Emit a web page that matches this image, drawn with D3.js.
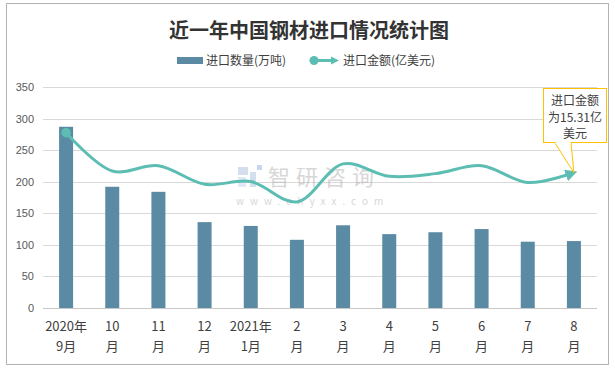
<!DOCTYPE html>
<html>
<head>
<meta charset="utf-8">
<script src="https://cdn.jsdelivr.net/npm/d3@7"></script>
<style>
  html, body { margin: 0; padding: 0; background: #fff; }
  svg { display: block; font-family: "Noto Sans CJK SC", "Noto Sans", sans-serif; }
</style>
</head>
<body>
<svg id="chart" width="615" height="369"></svg>
<script>
const categories = [["2020年","9月"],["10","月"],["11","月"],["12","月"],["2021年","1月"],["2","月"],["3","月"],["4","月"],["5","月"],["6","月"],["7","月"],["8","月"]];
const volume = [287, 192, 184, 136, 130, 108, 131, 117, 120, 125, 105, 106];   // 进口数量(万吨)
const amount = [19.83, 15.5, 16.1, 14.0, 14.3, 12.0, 16.3, 14.9, 15.2, 16.1, 14.2, 15.31]; // 进口金额(亿美元)
const yTicks = [0, 50, 100, 150, 200, 250, 300, 350];
const title = "近一年中国钢材进口情况统计图";
const legendLabels = ["进口数量(万吨)", "进口金额(亿美元)"];
const calloutLines = ["进口金额", "为15.31亿", "美元"];

const svg = d3.select("#chart");
const barColor = "#5b8ba4", lineColor = "#5cbdb3", gridColor = "#d9d9d9", textColor = "#404040";

// frame
svg.append("rect").attr("x", 6.5).attr("y", 3.5).attr("width", 602).attr("height", 361)
  .attr("fill", "#fff").attr("stroke", "#b3b3b3").attr("stroke-width", 1);

// title
svg.append("text").attr("x", 309).attr("y", 38).attr("text-anchor", "middle")
  .attr("font-size", 20).attr("font-weight", "bold").attr("fill", "#333").text(title);

const x = d3.scaleBand().domain(d3.range(categories.length)).range([43, 597]).paddingInner(0).paddingOuter(0);
const y = d3.scaleLinear().domain([0, 350]).range([308, 87]);
const y2 = d3.scaleLinear().domain([0, 25]).range([308, 87]);
const barW = 14;

// grid
svg.append("g").selectAll("line").data(yTicks).join("line")
  .attr("x1", 43).attr("x2", 597)
  .attr("y1", d => Math.round(y(d)) + 0.5).attr("y2", d => Math.round(y(d)) + 0.5)
  .attr("stroke", d => d === 0 ? "#c8c8c8" : gridColor).attr("stroke-width", 1);

// y axis labels
const yAxis = d3.axisLeft(y).tickValues(yTicks).tickSize(0).tickPadding(0);
const gy = svg.append("g").attr("transform", "translate(34,0)").call(yAxis);
gy.select(".domain").remove();
gy.selectAll("text").attr("font-size", 11).attr("fill", "#595959")
  .attr("font-family", "'Liberation Sans', 'Noto Sans', sans-serif");

// watermark
const wm = svg.append("g").attr("opacity", 0.5);
wm.append("rect").attr("x", 238).attr("y", 167).attr("width", 10).attr("height", 8).attr("fill", "#a9bfe0");
wm.append("rect").attr("x", 238).attr("y", 177).attr("width", 8).attr("height", 10).attr("fill", "#c5d4ea");
wm.append("rect").attr("x", 250).attr("y", 172).attr("width", 6).attr("height", 15).attr("fill", "#a9bfe0");
wm.append("rect").attr("x", 257).attr("y", 165).attr("width", 5).attr("height", 5).attr("fill", "#8fb0dd");
wm.append("text").attr("x", 268).attr("y", 185).attr("font-size", 22).attr("letter-spacing", 6)
  .attr("fill", "#b0b0b0").text("智研咨询");
wm.append("text").attr("x", 236).attr("y", 205).attr("font-size", 10).attr("letter-spacing", 6)
  .attr("fill", "#b0b0b0").text("www.chyxx.com");

// bars
svg.append("g").selectAll("rect").data(volume).join("rect")
  .attr("x", (d, i) => x(i) + x.bandwidth() / 2 - barW / 2)
  .attr("y", d => y(d)).attr("width", barW).attr("height", d => y(0) - y(d))
  .attr("fill", barColor);

// line
const defs = svg.append("defs");
defs.append("marker").attr("id", "arrow").attr("viewBox", "0 0 10 10").attr("refX", 7).attr("refY", 5)
  .attr("markerWidth", 4).attr("markerHeight", 4).attr("orient", "auto")
  .append("path").attr("d", "M0,0 L10,5 L0,10 z").attr("fill", lineColor);
defs.append("marker").attr("id", "dot").attr("viewBox", "0 0 10 10").attr("refX", 5).attr("refY", 5)
  .attr("markerWidth", 3.2).attr("markerHeight", 3.2)
  .append("circle").attr("cx", 5).attr("cy", 5).attr("r", 5).attr("fill", lineColor);

const line = d3.line().x((d, i) => x(i) + x.bandwidth() / 2).y(d => y2(d)).curve(d3.curveCatmullRom.alpha(0.5));
svg.append("path").datum(amount).attr("d", line).attr("fill", "none")
  .attr("stroke", lineColor).attr("stroke-width", 3)
  .attr("marker-start", "url(#dot)").attr("marker-end", "url(#arrow)");

// x axis labels
const gx = svg.append("g");
categories.forEach((c, i) => {
  const t = gx.append("text").attr("x", x(i) + x.bandwidth() / 2).attr("text-anchor", "middle")
    .attr("font-size", 13).attr("fill", textColor);
  t.append("tspan").attr("x", x(i) + x.bandwidth() / 2).attr("y", 331).text(c[0]);
  t.append("tspan").attr("x", x(i) + x.bandwidth() / 2).attr("y", 351).text(c[1]);
});

// legend
const lg = svg.append("g").attr("font-size", 12).attr("fill", textColor);
lg.append("rect").attr("x", 177).attr("y", 57).attr("width", 26).attr("height", 7).attr("fill", barColor);
lg.append("text").attr("x", 206).attr("y", 65).attr("fill", textColor).text(legendLabels[0]);
lg.append("line").attr("x1", 314).attr("x2", 333).attr("y1", 60.5).attr("y2", 60.5)
  .attr("stroke", lineColor).attr("stroke-width", 3);
lg.append("circle").attr("cx", 314).attr("cy", 60.5).attr("r", 4.5).attr("fill", lineColor);
lg.append("path").attr("d", "M331,56.5 L339,60.5 L331,64.5 Z").attr("fill", lineColor);
lg.append("text").attr("x", 343).attr("y", 65).attr("fill", textColor).text(legendLabels[1]);

// callout
const lastX = x(amount.length - 1) + x.bandwidth() / 2, lastY = y2(amount[amount.length - 1]);
const cg = svg.append("g");
cg.append("path").attr("d", `M555,143 L${lastX},${lastY} L571,143`).attr("fill", "#fff")
  .attr("stroke", "#ffc000").attr("stroke-width", 1);
cg.append("rect").attr("x", 543.5).attr("y", 88.5).attr("width", 63).attr("height", 54)
  .attr("fill", "#fff").attr("stroke", "#ffc000").attr("stroke-width", 1);
cg.append("rect").attr("x", 555.5).attr("y", 141).attr("width", 15).attr("height", 3).attr("fill", "#fff");
calloutLines.forEach((s, i) => {
  cg.append("text").attr("x", 575).attr("y", 105 + i * 16.5).attr("text-anchor", "middle")
    .attr("font-size", 12).attr("fill", textColor).text(s);
});
</script>
</body>
</html>
